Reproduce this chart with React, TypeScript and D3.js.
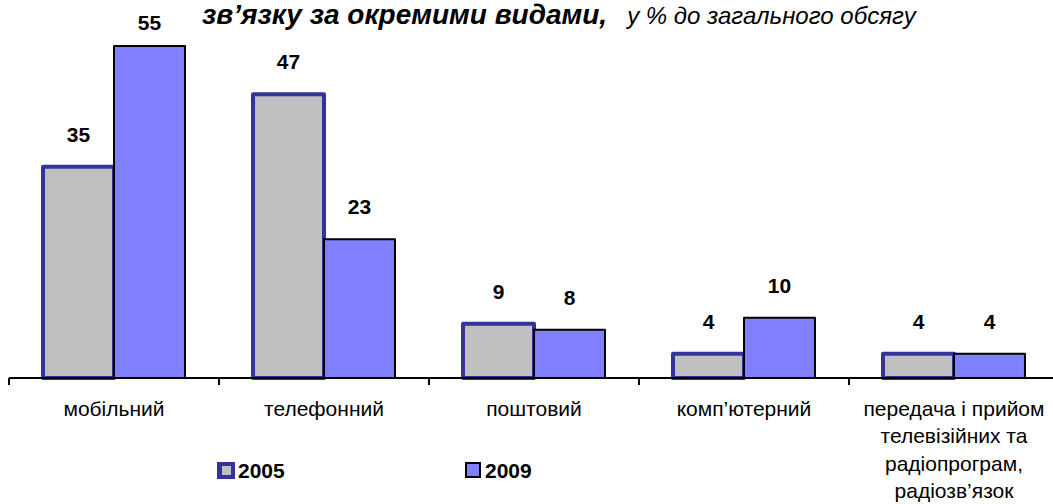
import React, { useEffect, useRef } from 'react';
import * as d3 from 'd3';

const categories = ['мобільний', 'телефонний', 'поштовий', 'комп’ютерний', 'передача і прийом телевізійних та радіопрограм, радіозв’язок'];
const categoryLines = [
  ['мобільний'],
  ['телефонний'],
  ['поштовий'],
  ['комп’ютерний'],
  ['передача і прийом', 'телевізійних та', 'радіопрограм,', 'радіозв’язок'],
];
const seriesNames = ['2005', '2009'];
const values2005 = [35, 47, 9, 4, 4];
const values2009 = [55, 23, 8, 10, 4];

const WIDTH = 1053;
const HEIGHT = 504;
const FONT = '"Liberation Sans", Arial, sans-serif';

const App: React.FC = () => {
  const svgRef = useRef<SVGSVGElement>(null);

  useEffect(() => {
    if (!svgRef.current) return;
    const svg = d3.select(svgRef.current);
    svg.selectAll('*').remove();

    const baseY = 378;
    const x0 = d3.scaleBand<string>()
      .domain(categories)
      .range([9, 1059])
      .paddingInner(0.324)
      .paddingOuter(0.162);
    const x1 = d3.scaleBand<string>()
      .domain(seriesNames)
      .range([0, x0.bandwidth()]);
    const y = d3.scaleLinear().domain([0, 55]).range([baseY, 46]);

    const styles = [
      { fill: '#C0C0C0', stroke: '#333399', width: 4 },
      { fill: '#8080FF', stroke: '#000000', width: 2 },
    ];
    const series = [values2005, values2009];

    // Bars
    series.forEach((vals, si) => {
      const name = seriesNames[si];
      const st = styles[si];
      const g = svg.append('g');
      categories.forEach((c, i) => {
        const v = vals[i];
        g.append('rect')
          .attr('x', x0(c)! + x1(name)!)
          .attr('y', y(v))
          .attr('width', x1.bandwidth())
          .attr('height', baseY - y(v))
          .attr('fill', st.fill)
          .attr('stroke', st.stroke)
          .attr('stroke-width', st.width)
          .attr('stroke-linejoin', 'round');
      });
    });

    // Value labels
    series.forEach((vals, si) => {
      const name = seriesNames[si];
      categories.forEach((c, i) => {
        const v = vals[i];
        svg.append('text')
          .attr('x', x0(c)! + x1(name)! + x1.bandwidth() / 2)
          .attr('y', Math.max(30, y(v) - 25))
          .attr('text-anchor', 'middle')
          .style('font-family', FONT)
          .style('font-size', '21px')
          .style('font-weight', 'bold')
          .text(v);
      });
    });

    // Axis
    const step = x0.step();
    const axisStart = x0(categories[0])! - x0.paddingOuter() * step;
    svg.append('line')
      .attr('x1', axisStart)
      .attr('x2', WIDTH)
      .attr('y1', baseY)
      .attr('y2', baseY)
      .attr('stroke', '#000')
      .attr('stroke-width', 2);
    categories.forEach((_, i) => {
      const tx = axisStart + i * step;
      svg.append('line')
        .attr('x1', tx)
        .attr('x2', tx)
        .attr('y1', baseY)
        .attr('y2', baseY + 7)
        .attr('stroke', '#000')
        .attr('stroke-width', 2);
    });

    // Category labels
    categories.forEach((c, i) => {
      const t = svg.append('text')
        .attr('text-anchor', 'middle')
        .style('font-family', FONT)
        .style('font-size', '21px');
      categoryLines[i].forEach((line, li) => {
        t.append('tspan')
          .attr('x', x0(c)! + x0.bandwidth() / 2)
          .attr('y', 416 + li * 27.3)
          .text(line);
      });
    });

    // Title (visible line)
    const title = svg.append('text')
      .attr('x', 202)
      .attr('y', 24)
      .style('font-family', FONT);
    title.append('tspan')
      .style('font-size', '28px')
      .style('font-weight', 'bold')
      .style('font-style', 'italic')
      .text('зв’язку за окремими видами,');
    title.append('tspan')
      .attr('dx', 20)
      .style('font-size', '24px')
      .style('font-style', 'italic')
      .text('у % до загального обсягу');

    // Legend
    const legendX = [217, 465];
    seriesNames.forEach((name, si) => {
      const lx = legendX[si];
      const g = svg.append('g');
      if (si === 0) {
        g.append('rect').attr('x', lx).attr('y', 462).attr('width', 18).attr('height', 17).attr('fill', '#333399');
        g.append('rect').attr('x', lx + 5).attr('y', 466).attr('width', 9).attr('height', 9).attr('fill', '#C0C0C0');
      } else {
        g.append('rect').attr('x', lx + 1).attr('y', 463).attr('width', 14).attr('height', 14)
          .attr('fill', '#8080FF').attr('stroke', '#000').attr('stroke-width', 2);
      }
      g.append('text')
        .attr('x', si === 0 ? lx + 21 : lx + 20)
        .attr('y', 478)
        .style('font-family', FONT)
        .style('font-size', '21px')
        .style('font-weight', 'bold')
        .text(name);
    });
  }, []);

  return (
    <svg
      ref={svgRef}
      width={WIDTH}
      height={HEIGHT}
      style={{ position: 'absolute', left: 0, top: 0, background: '#fff' }}
    />
  );
};

export default App;
